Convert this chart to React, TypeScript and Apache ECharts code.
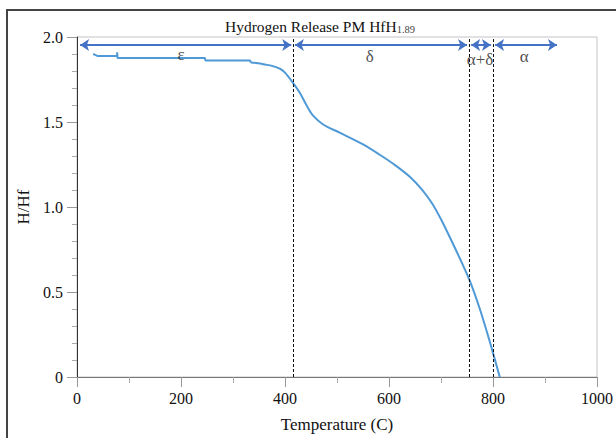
import React, { useEffect, useRef } from "react";
import * as echarts from "echarts";

// Temperature (C) and H/Hf (stepped early part)
const stepTemps = [31, 35, 40, 77, 77.2, 78, 246, 247, 333, 334];
const stepRatio = [1.90, 1.895, 1.888, 1.888, 1.91, 1.876, 1.876, 1.862, 1.862, 1.85];

// Smooth release part
const curveTemps = [334, 348, 362, 375, 390, 400, 416, 429, 442, 454, 474, 506, 551, 583, 611, 640, 663, 683, 700, 717, 736, 756, 775, 794, 813];
const curveRatio = [1.85, 1.846, 1.838, 1.83, 1.814, 1.79, 1.727, 1.669, 1.595, 1.537, 1.484, 1.436, 1.367, 1.306, 1.248, 1.178, 1.104, 1.021, 0.928, 0.822, 0.699, 0.561, 0.397, 0.206, 0.0];

// Phase boundaries (dashed lines)
const boundaries = [415, 754, 800];

// Phase arrows: [start, end]
const arrowLevel = 1.953;
const arrows = [
  [6, 412],
  [419, 750],
  [758, 796],
  [804, 923],
];

// Phase labels: [T, H, text]
const phaseLabels: [number, number, string][] = [
  [200, 1.9, "ε"],
  [563, 1.885, "δ"],
  [775, 1.868, "α+δ"],
  [860, 1.885, "α"],
];

const xTicks = [0, 200, 400, 600, 800, 1000];

const FONT = "Liberation Serif";

export default function App() {
  const ref = useRef<HTMLDivElement>(null);
  useEffect(() => {
    document.body.style.margin = "0";
    const chart = echarts.init(ref.current!, undefined, { renderer: "svg" });
    const lineColor = "#4f9ad6";
    const series: any[] = [
      {
        type: "line",
        data: stepTemps.map((t, i) => [t, stepRatio[i]]),
        showSymbol: false,
        lineStyle: { color: lineColor, width: 2 },
        z: 3,
        markLine: {
          silent: true,
          symbol: ["none", "none"],
          label: { show: false },
          lineStyle: { color: "#111", type: [3, 2], width: 1 },
          data: boundaries.map((b) => [{ coord: [b, 0] }, { coord: [b, 2] }]),
        },
      },
      {
        type: "line",
        data: curveTemps.map((t, i) => [t, curveRatio[i]]),
        showSymbol: false,
        smooth: 0.3,
        lineStyle: { color: lineColor, width: 2 },
        z: 3,
      },
      {
        type: "line",
        data: [],
        markLine: {
          silent: true,
          symbol: ["arrow", "arrow"],
          symbolSize: [9, 9],
          label: { show: false },
          lineStyle: { color: "#4472c4", type: "solid", width: 2 },
          data: arrows.map((a) => [{ coord: [a[0], arrowLevel] }, { coord: [a[1], arrowLevel] }]),
        },
      },
      {
        type: "scatter",
        data: phaseLabels.map((p) => [p[0], p[1], p[2]]),
        symbolSize: 1,
        itemStyle: { color: "rgba(0,0,0,0)" },
        silent: true,
        z: 5,
        label: {
          show: true,
          position: "inside",
          formatter: (p: any) => p.data[2],
          color: "#222",
          fontFamily: FONT,
          fontSize: 17,
        },
      },
    ];
    chart.setOption({
      animation: false,
      textStyle: { fontFamily: FONT },
      title: {
        text: "{a|Hydrogen Release PM HfH}{b|1.89}",
        left: 315,
        textAlign: "center",
        top: 12,
        textStyle: {
          fontWeight: "normal",
          rich: {
            a: { fontFamily: FONT, fontSize: 15.5, fontWeight: "normal", color: "#111" },
            b: { fontFamily: FONT, fontSize: 10.5, fontWeight: "normal", color: "#444", padding: [7, 0, 0, 0] },
          },
        },
      },
      graphic: [
        {
          type: "rect",
          shape: { x: 7, y: 10, width: 700, height: 600 },
          style: { fill: "none", stroke: "#444", lineWidth: 2 },
          silent: true,
        },
      ],
      grid: {
        left: 77,
        right: 19,
        top: 37,
        bottom: 61,
        show: true,
        borderColor: "#c4c4c4",
        borderWidth: 1,
      },
      xAxis: {
        type: "value",
        min: 0,
        max: 1000,
        interval: 200,
        name: "Temperature (C)",
        nameLocation: "middle",
        nameGap: 39,
        nameTextStyle: { fontFamily: FONT, fontSize: 17, color: "#111" },
        axisLine: { lineStyle: { color: "#777", width: 1 } },
        axisTick: { show: true, length: 10, lineStyle: { color: "#999" } },
        minorTick: { show: true, splitNumber: 2, length: 6, lineStyle: { color: "#aaa" } },
        splitLine: { show: false },
        axisLabel: {
          fontFamily: FONT,
          fontSize: 16,
          color: "#111",
          margin: 13,
          formatter: (v: number) => (xTicks.indexOf(v) >= 0 ? String(v) : ""),
        },
      },
      yAxis: {
        type: "value",
        min: 0,
        max: 2,
        interval: 0.5,
        name: "H/Hf",
        nameLocation: "middle",
        nameGap: 44,
        nameRotate: 90,
        nameTextStyle: { fontFamily: FONT, fontSize: 17, color: "#111" },
        axisLine: { show: true, lineStyle: { color: "#333", width: 1 } },
        axisTick: { show: true, length: 10, lineStyle: { color: "#999" } },
        minorTick: { show: true, splitNumber: 5, length: 5, lineStyle: { color: "#aaa" } },
        splitLine: { show: false },
        axisLabel: {
          fontFamily: FONT,
          fontSize: 16,
          color: "#111",
          margin: 14,
          formatter: (v: number) => (v === 0 ? "0" : v.toFixed(1)),
        },
      },
      series,
    });
    return () => chart.dispose();
  }, []);
  return <div ref={ref} style={{ width: 616, height: 438 }} />;
}
